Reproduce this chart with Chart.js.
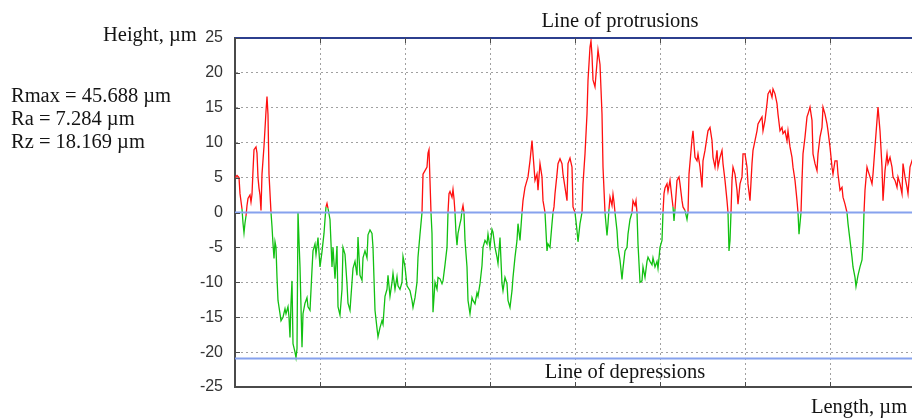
<!DOCTYPE html>
<html>
<head>
<meta charset="utf-8">
<script src="https://cdn.jsdelivr.net/npm/chart.js@4.4.0/dist/chart.umd.min.js"></script>
<style>
  html, body { margin: 0; padding: 0; background: #fff; overflow: hidden; }
  #wrap { position: relative; width: 912px; height: 419px; overflow: hidden; }
  canvas { position: absolute; left: 0; top: 0; }
</style>
</head>
<body>
<div id="wrap"><canvas id="profile" width="930" height="419"></canvas></div>
<script>
// profile: length (arbitrary µm units) and height in µm
const lengths = [
  0,2,4,5,7,8,9,10,11,12,13,15,16,17,18,19,21,22,23,24,25,26,27,29,30,31,32,33,34,36,
  37,38,39,40,41,42,43,45,46,48,50,51,53,54,55,56,57,58,60,61,62,63,64,65,67,68,70,72,73,75,
  77,78,80,81,83,85,87,89,90,91,92,93,95,97,98,100,102,103,105,107,108,110,112,113,115,117,118,120,122,123,
  125,127,128,130,132,133,135,137,138,140,142,143,145,147,148,150,152,153,155,157,158,160,162,163,165,167,168,170,172,175,
  177,178,180,182,183,185,187,188,190,192,193,194,195,196,197,198,200,202,203,205,207,208,210,212,213,214,215,217,218,219,
  220,221,222,223,225,226,227,228,229,230,232,233,235,237,238,240,242,243,245,247,248,250,252,253,255,257,258,260,262,263,
  265,267,268,270,272,273,275,277,278,280,282,283,285,287,288,290,292,293,295,297,298,300,302,303,305,307,308,310,312,313,
  315,317,318,319,320,322,323,325,327,328,330,332,333,335,337,338,340,342,343,345,347,348,350,352,353,355,356,357,358,360,
  362,363,365,367,368,370,372,373,374,375,377,378,379,380,382,383,385,387,388,390,392,393,395,397,398,400,401,402,403,405,
  407,408,410,412,413,415,417,418,420,422,423,425,427,428,429,430,432,433,435,437,438,439,440,442,444,445,447,448,450,452,
  453,454,457,458,460,462,463,465,467,468,470,472,473,475,477,478,480,482,483,485,487,488,490,492,493,494,495,496,497,498,
  500,502,503,505,507,508,510,512,513,515,517,518,520,522,523,525,527,528,530,532,533,535,537,538,540,542,543,545,547,548,
  550,552,553,555,557,558,560,562,563,564,566,567,568,570,572,573,575,577,578,580,582,583,585,587,588,590,592,593,595,597,
  598,600,602,603,605,607,608,610,612,613,615,617,618,620,621,623,625,627,628,629,630,632,633,635,637,638,640,642,643,645,
  647,648,650,652,653,655,657,658,660,662,663,665,667,668,670,672,673,675,677,680
];
const heights = [
  5.0,5.3,5.0,2.7,0.5,-1.5,-2.9,-1.5,-0.5,1.0,2.0,2.5,1.5,2.6,6.0,9.0,9.4,8.5,5.0,3.5,2.5,0.3,5.5,9.5,12.0,14.5,16.6,14.0,5.5,0.0,
  -2.0,-4.5,-6.6,-4.2,-5.0,-9.3,-12.6,-14.5,-15.5,-15.0,-13.8,-14.5,-13.5,-15.0,-17.9,-13.0,-9.8,-18.8,-20.0,-20.8,-19.5,0.0,-4.0,-7.8,-19.3,-14.5,-13.0,-12.2,-13.5,-14.0,
  -8.2,-5.5,-4.5,-6.0,-3.6,-7.8,-5.6,-3.0,-1.0,0.8,1.3,0.6,-1.0,-7.8,-5.0,-9.5,-4.8,-13.5,-14.7,-11.0,-5.0,-6.0,-10.2,-13.0,-14.0,-10.0,-8.0,-7.0,-9.0,-3.5,
  -9.0,-9.7,-6.5,-5.5,-6.5,-3.2,-2.5,-3.0,-5.0,-14.0,-16.6,-17.8,-16.5,-15.5,-16.0,-12.0,-11.0,-9.0,-12.0,-10.0,-8.7,-11.0,-9.2,-10.5,-11.0,-10.0,-6.3,-7.8,-10.5,-11.2,
  -12.6,-13.6,-12.2,-10.0,-6.4,-3.1,0.0,5.5,6.0,6.5,8.5,9.0,4.5,0.0,-3.0,-14.3,-10.0,-11.0,-9.3,-9.5,-10.2,-9.8,-7.5,-5.0,0.0,2.7,3.0,2.2,3.3,2.0,
  0.0,-3.0,-4.7,-3.0,-1.6,-1.0,0.3,1.0,0.0,-4.0,-7.8,-12.6,-14.5,-12.2,-12.6,-13.1,-11.5,-12.0,-10.2,-7.6,-5.0,-4.0,-4.5,-3.1,-5.0,-2.4,-2.8,-5.0,-6.4,-7.3,
  -3.6,-10.2,-11.2,-9.3,-10.2,-12.6,-13.6,-11.2,-9.3,-6.4,-4.0,-1.6,-4.0,0.0,1.7,3.6,4.6,5.1,7.4,10.3,8.4,4.6,5.5,3.2,7.0,5.1,1.7,0.0,-5.5,-4.5,
  -5.0,-1.6,0.0,0.8,2.7,5.5,7.0,7.7,7.0,5.5,3.6,1.7,7.0,7.8,6.5,0.8,0.0,-2.6,-4.2,-1.6,0.0,4.1,8.4,14.1,18.9,23.7,24.6,22.5,19.0,18.0,
  21.5,23.3,21.2,14.1,6.5,0.0,-3.3,-1.6,0.5,2.2,1.0,2.6,1.5,0.0,-2.6,-5.0,-6.8,-9.6,-8.0,-5.5,-5.0,-3.1,-1.0,0.0,1.7,1.0,1.7,0.0,-4.5,-10.0,
  -9.8,-7.8,-9.3,-7.0,-6.4,-7.0,-7.5,-6.5,-7.8,-7.0,-8.0,-5.0,-4.0,0.0,2.7,3.5,4.1,3.0,4.6,2.0,0.8,-1.2,0.5,4.6,5.1,4.1,1.7,0.8,0.3,-1.0,
  0.0,5.5,10.5,11.7,7.9,7.4,8.4,6.5,3.6,7.4,8.9,10.8,11.7,12.2,10.3,7.9,6.5,8.9,6.5,7.9,8.9,7.0,4.6,1.7,0.0,-5.5,-4.0,0.0,4.6,6.5,
  5.5,3.2,1.2,4.1,5.1,8.4,8.4,6.5,4.1,1.7,7.0,8.9,10.3,11.7,12.7,13.2,13.7,11.7,13.2,15.6,17.0,17.5,16.5,17.7,17.0,15.6,14.1,11.7,12.2,11.3,
  11.7,10.3,11.7,9.4,7.9,6.5,4.6,1.7,0.0,-3.1,0.0,4.6,8.4,10.8,13.7,14.1,15.1,13.2,8.4,7.0,6.0,8.4,10.8,12.2,15.1,14.1,12.7,11.7,9.4,6.5,
  5.5,7.4,7.4,5.5,3.2,3.6,2.2,1.2,0.0,-1.6,-4.0,-6.4,-7.8,-9.3,-10.6,-9.0,-7.8,-6.8,-4.5,0.0,3.2,6.5,6.0,5.1,4.1,5.5,9.4,13.2,15.1,11.7,
  6.5,1.7,6.0,8.4,7.0,7.9,6.5,5.1,4.6,3.6,5.1,4.1,2.7,7.0,5.1,3.6,2.7,6.5,7.4,6.5
];

const protrusionLevel = 25;
const meanLevel = 0;
const depressionLevel = -20.9;
const lengthMax = 680;
const lengthStep = 85;
const heightMin = -25;
const heightMax = 25;
const heightStep = 5;
const statLines = ['Rmax = 45.688 µm', 'Ra = 7.284 µm', 'Rz = 18.169 µm'];

const RED = '#ff1010';
const GREEN = '#12c012';
const LIGHT_BLUE = '#86a2ee';
const NAVY = '#2c3f8e';
const AXIS = '#4a4a4a';

const points = lengths.map((l, i) => ({ x: l, y: heights[i] }));
const levelLine = v => [{ x: 0, y: v }, { x: lengthMax, y: v }];

const textPlugin = {
  id: 'labels',
  afterDraw(chart) {
    const { ctx, chartArea, scales } = chart;
    ctx.save();
    // small inner ticks on the axes
    ctx.strokeStyle = AXIS;
    ctx.lineWidth = 1;
    scales.x.ticks.forEach(t => {
      const px = Math.round(scales.x.getPixelForValue(t.value)) + 0.5;
      ctx.beginPath();
      ctx.moveTo(px, chartArea.bottom);
      ctx.lineTo(px, chartArea.bottom - 5);
      ctx.moveTo(px, chartArea.top);
      ctx.lineTo(px, chartArea.top + 5);
      ctx.stroke();
    });
    scales.y.ticks.forEach(t => {
      const py = Math.round(scales.y.getPixelForValue(t.value)) + 0.5;
      ctx.beginPath();
      ctx.moveTo(chartArea.left, py);
      ctx.lineTo(chartArea.left + 5, py);
      ctx.stroke();
    });

    ctx.fillStyle = '#141414';
    ctx.font = '20.5px "Liberation Serif", "Times New Roman", serif';
    ctx.textBaseline = 'alphabetic';
    ctx.textAlign = 'left';
    ctx.fillText('Height, µm', 103, 41);
    statLines.forEach((s, i) => ctx.fillText(s, 11, 102 + i * 23));
    ctx.fillText('Length, µm', 811, 413);
    ctx.textAlign = 'center';
    ctx.fillText('Line of protrusions', 620, 27);
    ctx.fillText('Line of depressions', 625, 378);
    ctx.restore();
  }
};

new Chart(document.getElementById('profile'), {
  type: 'line',
  data: {
    datasets: [
      {
        label: 'profile',
        data: points,
        borderWidth: 1.3,
        borderColor: RED,
        pointRadius: 0,
        tension: 0,
        segment: {
          borderColor: c => ((c.p0.parsed.y + c.p1.parsed.y) / 2 >= 0 ? RED : GREEN)
        },
        order: 3
      },
      {
        label: 'mean',
        data: levelLine(meanLevel),
        borderColor: LIGHT_BLUE,
        borderWidth: 2,
        pointRadius: 0,
        order: 2
      },
      {
        label: 'depressions',
        data: levelLine(depressionLevel),
        borderColor: LIGHT_BLUE,
        borderWidth: 2,
        pointRadius: 0,
        order: 2
      },
      {
        label: 'protrusions',
        data: levelLine(protrusionLevel),
        borderColor: NAVY,
        borderWidth: 2,
        pointRadius: 0,
        clip: 4,
        order: 1
      }
    ]
  },
  options: {
    responsive: false,
    animation: false,
    devicePixelRatio: 1,
    layout: { padding: { top: 38, right: 15, left: 0, bottom: 0 } },
    plugins: {
      legend: { display: false },
      tooltip: { enabled: false }
    },
    scales: {
      x: {
        type: 'linear',
        min: 0,
        max: lengthMax,
        ticks: { display: false, stepSize: lengthStep },
        grid: { color: '#a0a0a0', drawTicks: false },
        border: { display: true, color: AXIS, width: 2, dash: [2, 3] },
        afterFit: s => { s.height = 32; }
      },
      y: {
        min: heightMin,
        max: heightMax,
        ticks: {
          stepSize: heightStep,
          padding: 12,
          color: '#333',
          font: { family: '"Liberation Sans", Arial, sans-serif', size: 16 }
        },
        grid: { color: '#a0a0a0', drawTicks: false },
        border: { display: true, color: AXIS, width: 2, dash: [2, 3] },
        afterFit: s => { s.width = 235; }
      }
    }
  },
  plugins: [textPlugin]
});
</script>
</body>
</html>
